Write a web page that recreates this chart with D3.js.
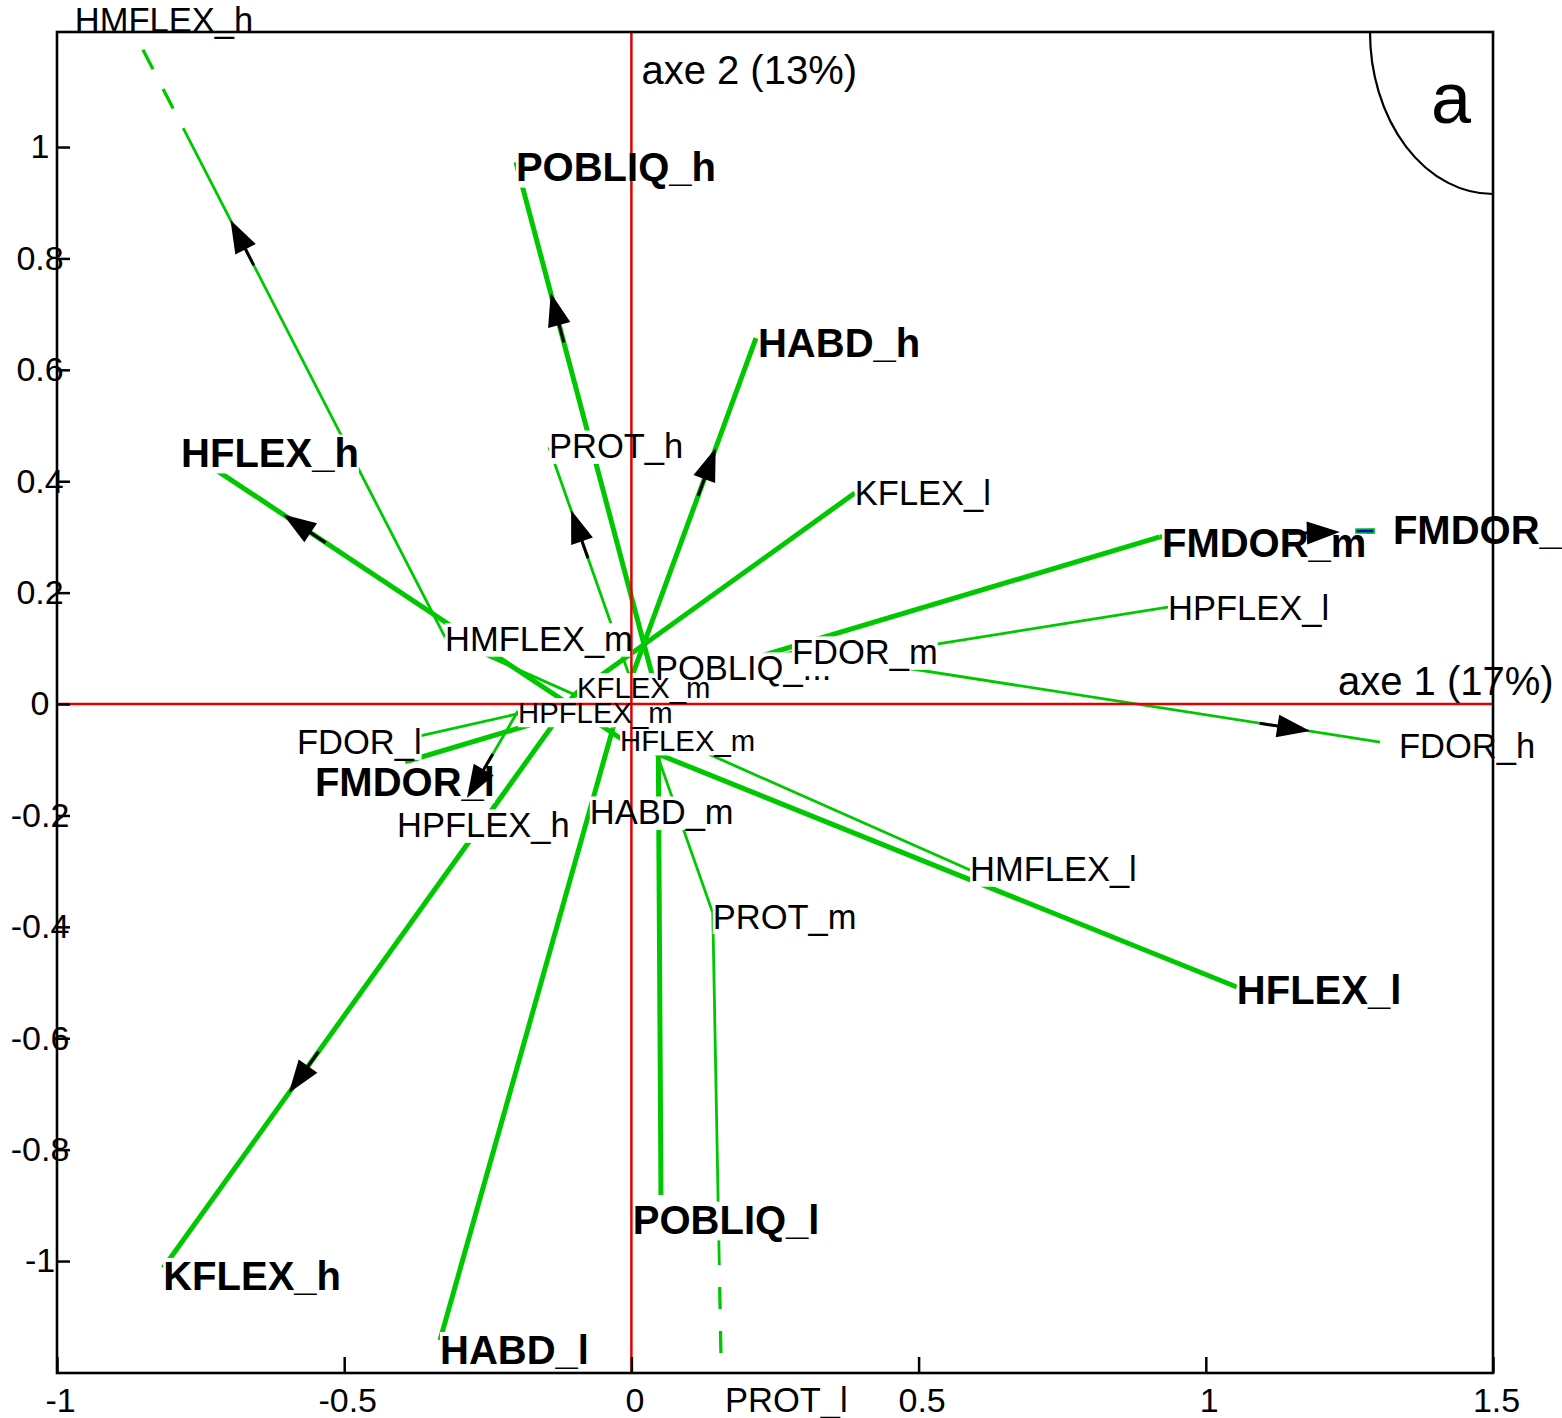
<!DOCTYPE html>
<html><head><meta charset="utf-8">
<script src="https://cdn.jsdelivr.net/npm/d3@7"></script>
<style>
body{margin:0;background:#fff;overflow:hidden}
svg{display:block;font-family:"Liberation Sans",Arial,Helvetica,sans-serif}
</style>
</head><body>
<svg id="chart" width="1562" height="1418"></svg>
<script>
// ---------------- data ----------------
const variables     = ["HMFLEX","HFLEX","POBLIQ","HABD","PROT","KFLEX","FMDOR","FDOR","HPFLEX"];
const thickVariable = [false,   true,   true,    true,  false, true,   true,   false, false];
// modality coordinates (axe 1, axe 2)
const lowPoints  = [[0.5895,-0.298],[1.054,-0.508],[0.0515,-0.8815],[-0.3332,-1.142],[0.158,-1.285],[0.389,0.3788],[-0.394,-0.104],[-0.4237,-0.070],[0.9342,0.1741]];
const medPoints  = [[-0.3245,0.120],[-0.0146,-0.0646],[0.0463,0.0126],[-0.032,-0.043],[0.1417,-0.375],[-0.0982,0.018],[0.920,0.300],[0.2883,0.0952],[-0.1974,-0.0126]];
const highPoints = [[-0.877,1.228],[-0.73,0.425],[-0.201,0.973],[0.2169,0.657],[-0.1435,0.461],[-0.8151,-1.0126],[1.2944,0.3106],[1.3033,-0.0682],[-0.2862,-0.1688]];
// label anchors (left edge, vertical middle), in axis units
const lowLabelPos  = [[0.5895,-0.296],[1.054,-0.513],[0.0024,-0.926],[-0.3332,-1.160],[0.163,-1.2496],[0.389,0.3788],[-0.551,-0.140],[-0.5822,-0.0682],[0.9342,0.1724]];
const medLabelPos  = [[-0.3245,0.117],[-0.0198,-0.065],[0.041,0.0646],[-0.0724,-0.194],[0.1417,-0.381],[-0.0947,0.0305],[0.9237,0.289],[0.2796,0.0934],[-0.1974,-0.0144]];
const highLabelPos = [[-0.969,1.228],[-0.784,0.451],[-0.201,0.964],[0.2204,0.648],[-0.1435,0.463],[-0.8151,-1.027],[1.3258,0.3124],[1.3363,-0.0754],[-0.4081,-0.2172]];
const lowLabels  = ["HMFLEX_l","HFLEX_l","POBLIQ_l","HABD_l","PROT_l","KFLEX_l","FMDOR_l","FDOR_l","HPFLEX_l"];
const medLabels  = ["HMFLEX_m","HFLEX_m","POBLIQ_...","HABD_m","PROT_m","KFLEX_m","FMDOR_m","FDOR_m","HPFLEX_m"];
const highLabels = ["HMFLEX_h","HFLEX_h","POBLIQ_h","HABD_h","PROT_h","KFLEX_h","FMDOR_h","FDOR_h","HPFLEX_h"];
const lowBold  = [false,true,true,true,false,false,true,false,false];
const medBold  = [false,false,false,false,false,false,true,false,false];
const highBold = [false,true,true,true,false,true,true,false,false];
// medium labels printed smaller in the crowded centre
const medSmall = [false,true,false,false,false,true,false,false,true];
// position of arrow tip along the m -> h segment (fraction)
const arrowPos = [0.676,0.827,0.755,0.718,0.865,0.695,0.837,0.88,1.0];
const blueMarkerVars = ["FMDOR"];
const xTicks = [-1,-0.5,0,0.5,1,1.5];
const yTicks = [-1,-0.8,-0.6,-0.4,-0.2,0,0.2,0.4,0.6,0.8,1];
const xDomain = [-1,1.5];
const yDomain = [-1.201,1.2065];
const axisTitle1 = "axe 1 (17%)";
const axisTitle2 = "axe 2 (13%)";
const panelLetter = "a";

// ---------------- drawing ----------------
const svg = d3.select("#chart");
const L=57,R=1493,T=32,B=1373;
const x = d3.scaleLinear().domain(xDomain).range([L,R]);
const y = d3.scaleLinear().domain(yDomain).range([B,T]);
const GREEN="#00c800", RED="#e00000";

svg.append("defs").append("clipPath").attr("id","plotclip")
  .append("rect").attr("x",L).attr("y",T).attr("width",R-L).attr("height",B-T);

const linesG = svg.append("g").attr("clip-path","url(#plotclip)");
const boxG = svg.append("g");
const redG = svg.append("g");
const textG = svg.append("g");
const arrowG = svg.append("g");
const frameG = svg.append("g");

const P = p => [x(p[0]), y(p[1])];
function inside(p){return p[0]>=L&&p[0]<=R&&p[1]>=T&&p[1]<=B;}
function drawSeg(a,b,w){
  let end=b, clipped=false;
  if(!inside(b)){
    let t=1;
    const dx=b[0]-a[0], dy=b[1]-a[1];
    if(b[1]<T) t=Math.min(t,(T-a[1])/dy);
    if(b[1]>B) t=Math.min(t,(B-a[1])/dy);
    if(b[0]<L) t=Math.min(t,(L-a[0])/dx);
    if(b[0]>R) t=Math.min(t,(R-a[0])/dx);
    end=[a[0]+t*dx,a[1]+t*dy]; clipped=true;
  }
  if(!clipped){
    linesG.append("line").attr("x1",a[0]).attr("y1",a[1]).attr("x2",b[0]).attr("y2",b[1])
      .attr("stroke",GREEN).attr("stroke-width",w).attr("stroke-linecap","butt");
    return;
  }
  const len=Math.hypot(end[0]-a[0],end[1]-a[1]);
  const dl=108, f=(len-dl)/len;
  const mid=[a[0]+f*(end[0]-a[0]),a[1]+f*(end[1]-a[1])];
  linesG.append("line").attr("x1",a[0]).attr("y1",a[1]).attr("x2",mid[0]).attr("y2",mid[1])
    .attr("stroke",GREEN).attr("stroke-width",w);
  linesG.append("line").attr("x1",mid[0]).attr("y1",mid[1]).attr("x2",end[0]).attr("y2",end[1])
    .attr("stroke",GREEN).attr("stroke-width",w+0.5).attr("stroke-dasharray","22,22").attr("stroke-dashoffset",22);
}

variables.forEach((v,i)=>{
  const w = thickVariable[i]?5:2.8;
  const l=P(lowPoints[i]), m=P(medPoints[i]), h=P(highPoints[i]);
  drawSeg(m,l,w);
  drawSeg(m,h,w);
});

// labels
function addLabel(pos,txt,bold,small){
  const fs = bold?40:(small?29.3:34.5);
  const t = textG.append("text").attr("x",x(pos[0])).attr("y",y(pos[1])).attr("dy","0.358em")
    .style("font-size",fs+"px").style("font-weight",bold?"bold":"normal").attr("fill","#000").text(txt);
  const bb=t.node().getBBox();
  boxG.append("rect").attr("x",bb.x).attr("y",bb.y+bb.height*0.08).attr("width",bb.width).attr("height",bb.height*0.88).attr("fill","#fff");
}
variables.forEach((v,i)=>{
  addLabel(lowLabelPos[i],lowLabels[i],lowBold[i],false);
  addLabel(medLabelPos[i],medLabels[i],medBold[i],medSmall[i]);
  addLabel(highLabelPos[i],highLabels[i],highBold[i],false);
});

// blue end marker
variables.forEach((v,i)=>{
  if(blueMarkerVars.indexOf(v)<0) return;
  const h=P(highPoints[i]);
  arrowG.append("rect").attr("x",h[0]-19).attr("y",h[1]-2).attr("width",18).attr("height",4)
    .attr("fill","#0000ee").attr("stroke",GREEN).attr("stroke-width",1.5);
});

// arrows
variables.forEach((v,i)=>{
  const m=P(medPoints[i]), h=P(highPoints[i]);
  const f=arrowPos[i];
  const tip=[m[0]+f*(h[0]-m[0]), m[1]+f*(h[1]-m[1])];
  const d=Math.hypot(h[0]-m[0],h[1]-m[1]);
  const u=[(h[0]-m[0])/d,(h[1]-m[1])/d], n=[-u[1],u[0]];
  const hl=33, hw=11.5;
  const base=[tip[0]-hl*u[0],tip[1]-hl*u[1]];
  arrowG.append("line").attr("x1",base[0]+4*u[0]).attr("y1",base[1]+4*u[1])
    .attr("x2",base[0]-18*u[0]).attr("y2",base[1]-18*u[1]).attr("stroke","#000").attr("stroke-width",3);
  arrowG.append("path").attr("d",`M${tip[0]},${tip[1]}L${base[0]+hw*n[0]},${base[1]+hw*n[1]}L${base[0]-hw*n[0]},${base[1]-hw*n[1]}Z`)
    .attr("fill","#000");
});

// red axes
redG.append("line").attr("x1",x(0)).attr("x2",x(0)).attr("y1",T).attr("y2",B).attr("stroke",RED).attr("stroke-width",2.5);
redG.append("line").attr("x1",L).attr("x2",R).attr("y1",y(0)).attr("y2",y(0)).attr("stroke",RED).attr("stroke-width",2.5);

// axes
const fmt = d=>String(d);
const ax = frameG.append("g").attr("transform",`translate(0,${B})`)
  .call(d3.axisBottom(x).tickValues(xTicks).tickFormat(fmt).tickSizeInner(-16).tickSizeOuter(0).tickPadding(15));
const ay = frameG.append("g").attr("transform",`translate(${L},0)`)
  .call(d3.axisLeft(y).tickValues(yTicks).tickFormat(fmt).tickSizeInner(-13).tickSizeOuter(0).tickPadding(17));
[ax,ay].forEach(g=>{
  g.select(".domain").remove();
  g.selectAll(".tick line").attr("stroke","#000").attr("stroke-width",2.5);
  g.selectAll(".tick text").style("font-size","34px").style("font-family","'Liberation Sans',Arial,sans-serif").attr("fill","#000");
});
ax.selectAll(".tick text").attr("dx",3);
ay.selectAll(".tick text").attr("text-anchor","middle");

frameG.append("rect").attr("x",L).attr("y",T).attr("width",R-L).attr("height",B-T)
  .attr("fill","none").attr("stroke","#000").attr("stroke-width",2.6);

// axis titles
frameG.append("text").attr("x",x(0)+10).attr("y",70).attr("dy","0.358em").style("font-size","40px").text(axisTitle2);
frameG.append("text").attr("x",1338).attr("y",681).attr("dy","0.358em").style("font-size","40px").text(axisTitle1);

// panel letter with quarter ellipse
frameG.append("path").attr("d",`M${R-123},${T}A123 162 0 0 0 ${R},${T+162}`)
  .attr("fill","none").attr("stroke","#000").attr("stroke-width",2.2);
frameG.append("text").attr("x",R-42).attr("y",T+91).attr("text-anchor","middle").style("font-size","72px").text(panelLetter);
</script>
</body></html>
